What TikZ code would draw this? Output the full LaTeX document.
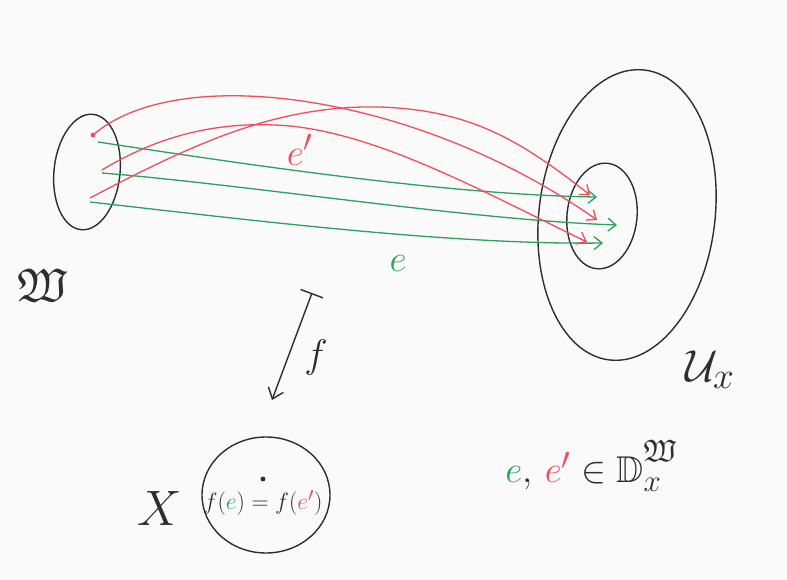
\documentclass[tikz,border=0pt]{standalone}
\usepackage{amsmath,amssymb}
\usetikzlibrary{arrows.meta,shapes.geometric}

\definecolor{paper}{RGB}{250,250,251}
\definecolor{pencil}{RGB}{45,45,50}
\definecolor{penred}{RGB}{238,78,96}
\definecolor{pengreen}{RGB}{44,160,92}

\begin{document}
\begin{tikzpicture}[x=1pt, y=-1pt,
    blob/.style={ellipse, draw=pencil, line width=1.4pt, inner sep=0pt},
    hand/.style={font=\Huge, text=pencil, inner sep=0pt},
    barb/.style={-{Straight Barb[length=8pt,width=13pt]}},
    redpath/.style={penred, line width=1.3pt, barb},
    greenpath/.style={pengreen, line width=1.3pt, barb}]

  % paper
  \fill[paper] (0,0) rectangle (787,580);
  \useasboundingbox (0,0) rectangle (787,580);

  % the sets (hand drawn, slightly tilted)
  \node[blob, minimum width=66pt,  minimum height=116pt, rotate=-6] (W)  at (87,172)  {};
  \node[blob, minimum width=176pt, minimum height=292pt, rotate=-7] (Ux) at (627,215) {};
  \node[blob, minimum width=70pt,  minimum height=106pt, rotate=-6] (Dx) at (602,216) {};
  \node[blob, minimum width=128pt, minimum height=116pt]            (X)  at (266,495) {};

  % end points of the paths
  \coordinate (ra) at (93,135);   \coordinate (ra') at (597,220);
  \coordinate (rb) at (102,170);  \coordinate (rb') at (587,242);
  \coordinate (rc) at (90,198);   \coordinate (rc') at (590,195);
  \coordinate (ga) at (98,142);   \coordinate (ga') at (597,197);
  \coordinate (gb) at (102,173);  \coordinate (gb') at (617,225);
  \coordinate (gc) at (90,202);   \coordinate (gc') at (603,243);

  % green paths e
  \draw[greenpath] (ga) .. controls (250,165) and (450,195) .. (ga');
  \draw[greenpath] (gb) .. controls (250,185) and (470,220) .. (gb');
  \draw[greenpath] (gc) .. controls (250,220) and (450,245) .. (gc');

  % red paths e'
  \draw[redpath] (ra) .. controls (180,60) and (420,95) .. (ra');
  \draw[redpath] (rb) .. controls (160,135) and (220,120) .. (290,126)
                      .. controls (380,135) and (480,190) .. (rb');
  \draw[redpath] (rc) .. controls (200,140) and (280,105) .. (380,107)
                      .. controls (470,110) and (520,140) .. (rc');
  \fill[penred] (ra) circle (2.4pt);

  % path labels
  \node[hand, scale=1.5, text=penred]   (lred)   at (300,150) {$e'$};
  \node[hand, scale=1.5, text=pengreen] (lgreen) at (398,263) {$e$};

  % set labels
  \node[hand, scale=1.9] (lW)  at (42,285)  {$\mathfrak{W}$};
  \node[hand, scale=1.8] (lUx) at (710,370) {$\mathcal{U}_x$};
  \node[hand, scale=2]   (lX)  at (160,508) {$X$};

  % the map f
  \coordinate (ftop) at (312,293);
  \coordinate (fbot) at (272,400);
  \draw[pencil, line width=1.4pt, {Bar[width=24pt]}-{Straight Barb[length=10pt,width=16pt]}]
    (ftop) -- (fbot);
  \node[hand, scale=1.6] (lf) at (316,358) {$f$};

  % image point in X
  \coordinate (x) at (263,479);
  \fill[pencil] (x) circle (2.4pt);
  \node[hand, scale=0.95] (img) at (263,503)
    {$f(\textcolor{pengreen}{e})=f(\textcolor{penred}{e'})$};

  % membership
  \node[hand, scale=1.5, anchor=west] (lD) at (505,466)
    {$\textcolor{pengreen}{e},\,\textcolor{penred}{e'}\in
      \mathbb{D}_x^{\raisebox{5pt}{$\scriptstyle\mathfrak{W}$}}$};

\end{tikzpicture}
\end{document}
